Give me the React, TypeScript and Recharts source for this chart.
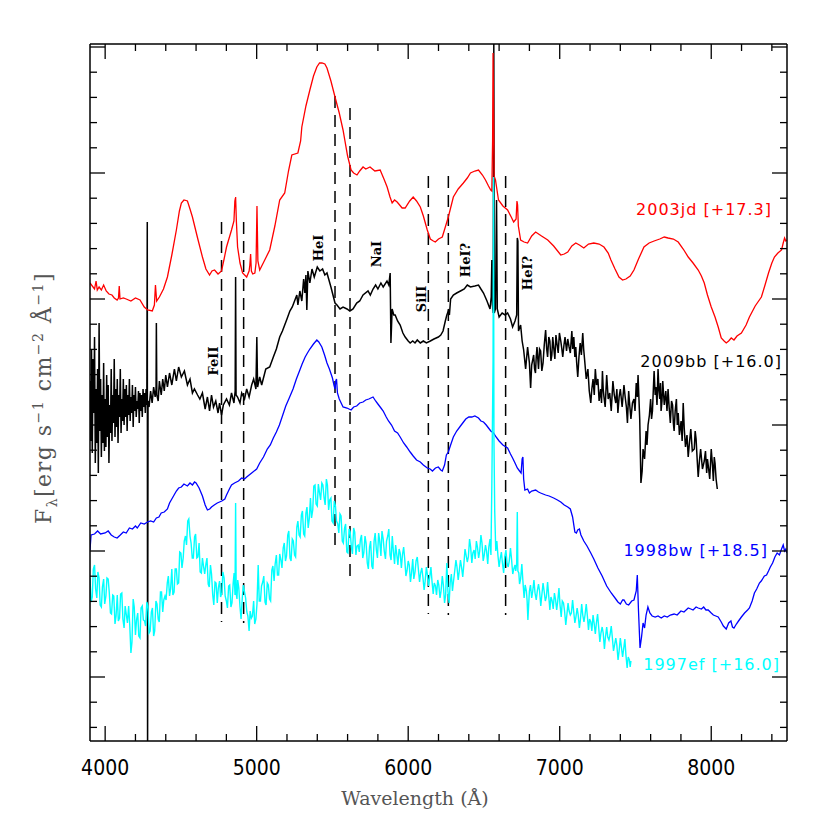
import { LineChart, Line, XAxis, YAxis, ReferenceLine } from "recharts";

// spectra: [wavelength (Å), flux with display offset (arbitrary units)]
const sn2003jd: number[][] = [
  [3900,458],[3915,455],[3930,452],[3940,460],[3948,451],[3960,454],[3975,451],[3990,456],[4007,450],[4025,447],[4045,446],[4060,443],[4079,441],[4088,443],[4093,455],[4098,442],[4120,443],[4139,442],[4170,440],[4200,443],[4230,441],[4258,434],[4280,431],[4311,430],[4325,436],[4332,456],[4340,440],[4358,444],[4385,452],[4411,464],[4440,486],[4470,511],[4490,530],[4503,538],[4520,541],[4543,540],[4560,532],[4576,524],[4610,503],[4642,484],[4665,472],[4689,466],[4705,470],[4722,471],[4745,467],[4768,470],[4785,482],[4801,494],[4834,511],[4850,520],[4856,540],[4861,544],[4866,520],[4874,494],[4890,478],[4907,468],[4934,464],[4950,470],[4955,476],[4960,487],[4965,470],[4974,467],[4988,468],[4996,478],[5002,535],[5008,480],[5020,471],[5050,480],[5086,491],[5120,515],[5152,541],[5185,548],[5210,570],[5232,586],[5272,588],[5290,600],[5298,614],[5325,635],[5351,651],[5375,665],[5397,674],[5415,678],[5431,678],[5450,677],[5464,673],[5490,660],[5517,644],[5545,628],[5570,611],[5600,585],[5623,571],[5640,568],[5662,566],[5680,570],[5702,574],[5720,572],[5748,574],[5780,570],[5815,571],[5840,562],[5861,554],[5880,544],[5894,538],[5910,541],[5927,539],[5960,533],[5980,533],[6010,540],[6033,544],[6055,540],[6080,534],[6100,525],[6126,511],[6146,502],[6166,500],[6179,499],[6200,502],[6225,504],[6245,514],[6265,524],[6298,544],[6330,552],[6364,558],[6390,563],[6411,568],[6440,570],[6464,571],[6490,566],[6510,561],[6530,555],[6545,551],[6552,550],[6557,600],[6560,688],[6563,640],[6567,565],[6576,561],[6596,541],[6625,535],[6656,531],[6680,524],[6696,519],[6712,522],[6718,540],[6722,536],[6727,515],[6742,501],[6765,499],[6788,498],[6815,505],[6841,509],[6880,505],[6921,501],[6960,495],[7007,486],[7030,487],[7053,489],[7080,495],[7106,498],[7130,496],[7159,493],[7190,497],[7225,498],[7260,497],[7292,494],[7320,488],[7338,481],[7365,472],[7391,464],[7415,461],[7437,462],[7465,465],[7490,471],[7520,482],[7556,494],[7590,498],[7623,500],[7660,502],[7690,504],[7715,503],[7750,502],[7782,499],[7815,492],[7848,484],[7880,478],[7914,471],[7935,465],[7954,458],[7975,446],[8000,434],[8025,424],[8046,414],[8066,403],[8085,400],[8099,398],[8115,400],[8132,403],[8150,401],[8170,405],[8199,408],[8230,416],[8252,424],[8290,435],[8331,444],[8355,456],[8378,468],[8400,478],[8417,484],[8440,488],[8464,491],[8475,498],[8484,503],[8492,500],[8500,501],
];

const sn2009bb: number[][] = [
  [3900,360],[3905,300],[3910,392],[3915,288],[3920,382],[3925,328],[3930,404],[3935,278],[3940,352],[3945,298],[3950,372],[3955,268],[3960,418],[3965,310],[3970,362],[3975,284],[3980,346],[3985,298],[3990,378],[3995,290],[4000,342],[4005,294],[4010,366],[4015,304],[4020,356],[4025,278],[4030,336],[4035,308],[4040,372],[4045,300],[4050,346],[4055,318],[4060,382],[4065,304],[4070,352],[4075,314],[4080,362],[4085,298],[4090,346],[4095,324],[4100,372],[4105,308],[4110,342],[4115,320],[4120,362],[4125,316],[4130,352],[4135,324],[4140,356],[4145,310],[4150,346],[4155,326],[4160,362],[4165,320],[4170,344],[4175,328],[4180,356],[4185,314],[4190,346],[4195,330],[4200,354],[4205,324],[4210,340],[4215,332],[4220,350],[4225,318],[4230,348],[4235,330],[4240,346],[4245,324],[4250,352],[4255,334],[4260,348],[4265,328],[4270,352],[4275,336],[4278,519],[4280,-20],[4283,340],[4290,334],[4300,350],[4310,338],[4320,354],[4330,344],[4336,352],[4338,418],[4341,346],[4350,340],[4358,360],[4370,346],[4380,362],[4390,350],[4400,366],[4411,354],[4425,368],[4440,356],[4457,372],[4470,360],[4485,374],[4503,364],[4523,370],[4543,356],[4560,362],[4576,348],[4589,352],[4610,346],[4625,342],[4642,348],[4660,332],[4675,344],[4689,330],[4702,346],[4715,334],[4730,340],[4745,328],[4755,338],[4768,326],[4780,336],[4801,342],[4820,336],[4834,348],[4850,338],[4858,350],[4861,464],[4864,346],[4874,344],[4890,338],[4901,348],[4920,342],[4934,352],[4950,344],[4967,356],[4980,362],[4995,352],[5001,404],[5006,354],[5020,364],[5033,356],[5060,372],[5086,374],[5110,384],[5130,392],[5152,404],[5170,410],[5185,416],[5200,422],[5219,430],[5235,434],[5250,440],[5265,446],[5272,436],[5285,450],[5298,440],[5310,462],[5318,448],[5325,466],[5331,431],[5338,470],[5351,458],[5365,472],[5380,464],[5400,474],[5417,470],[5435,472],[5450,466],[5464,468],[5490,454],[5517,438],[5530,436],[5550,432],[5570,434],[5596,432],[5615,430],[5636,432],[5660,438],[5680,440],[5702,446],[5735,450],[5750,446],[5768,452],[5785,456],[5800,452],[5820,458],[5835,454],[5860,460],[5872,456],[5881,468],[5886,398],[5894,432],[5905,426],[5914,426],[5930,420],[5947,416],[5965,408],[5980,404],[6000,400],[6013,398],[6030,400],[6045,398],[6060,401],[6080,398],[6100,400],[6120,398],[6146,400],[6170,402],[6199,404],[6215,406],[6230,410],[6245,420],[6255,426],[6265,430],[6272,426],[6280,442],[6298,446],[6320,448],[6345,450],[6370,452],[6390,456],[6411,454],[6440,455],[6464,456],[6480,452],[6497,448],[6520,440],[6540,432],[6548,444],[6552,481],[6556,436],[6561,428],[6565,697],[6568,428],[6576,432],[6583,541],[6588,432],[6600,424],[6620,428],[6640,426],[6656,428],[6675,422],[6689,414],[6705,420],[6716,426],[6720,503],[6724,500],[6728,410],[6742,416],[6752,400],[6762,391],[6775,372],[6788,394],[6800,378],[6808,353],[6815,376],[6828,386],[6834,372],[6840,368],[6845,384],[6850,394],[6860,372],[6867,392],[6874,390],[6882,370],[6890,378],[6898,396],[6907,411],[6914,392],[6920,384],[6928,404],[6935,400],[6942,380],[6948,386],[6954,404],[6960,394],[6968,382],[6975,406],[6983,396],[6990,388],[6998,408],[7007,400],[7014,392],[7020,384],[7028,396],[7035,404],[7045,390],[7053,402],[7062,394],[7070,388],[7080,410],[7086,392],[7093,404],[7100,384],[7106,394],[7112,378],[7119,364],[7127,384],[7135,398],[7143,386],[7152,408],[7158,392],[7165,380],[7175,362],[7186,372],[7195,350],[7205,338],[7212,352],[7220,362],[7228,346],[7235,372],[7243,356],[7252,362],[7260,340],[7270,352],[7276,338],[7282,370],[7287,352],[7292,344],[7300,334],[7310,366],[7320,342],[7330,348],[7340,330],[7351,360],[7360,346],[7370,338],[7377,352],[7384,328],[7392,344],[7400,352],[7412,334],[7424,356],[7432,344],[7440,334],[7447,318],[7455,350],[7462,336],[7470,322],[7480,338],[7490,342],[7497,330],[7505,358],[7512,344],[7517,366],[7528,322],[7536,258],[7544,270],[7550,292],[7560,282],[7570,310],[7576,296],[7583,316],[7592,326],[7600,342],[7606,322],[7612,330],[7618,352],[7623,370],[7630,346],[7635,354],[7642,336],[7649,372],[7655,350],[7660,342],[7665,358],[7669,330],[7675,340],[7680,360],[7690,336],[7700,350],[7708,330],[7715,352],[7722,334],[7730,318],[7738,340],[7745,336],[7750,318],[7755,310],[7762,330],[7770,342],[7776,316],[7782,328],[7790,306],[7801,320],[7808,300],[7815,338],[7822,312],[7830,294],[7840,306],[7848,284],[7856,298],[7865,312],[7875,290],[7888,292],[7894,310],[7900,302],[7907,282],[7914,264],[7922,280],[7930,292],[7942,272],[7954,280],[7962,290],[7970,268],[7975,282],[7980,276],[7990,262],[8000,292],[8008,276],[8014,260],[8020,284],[8025,278],[8032,262],[8040,252],
];

const sn1998bw: number[][] = [
  [3900,191],[3907,206],[3930,207],[3950,210],[3970,207],[4000,208],[4020,210],[4040,206],[4060,204],[4079,203],[4100,206],[4120,209],[4139,208],[4160,213],[4180,212],[4200,215],[4212,213],[4235,218],[4258,217],[4280,219],[4300,220],[4320,219],[4338,223],[4355,224],[4370,228],[4390,229],[4411,232],[4425,238],[4440,242],[4455,246],[4470,250],[4485,253],[4503,254],[4520,257],[4543,255],[4560,258],[4576,256],[4590,259],[4600,258],[4620,253],[4642,245],[4660,236],[4675,231],[4690,232],[4702,234],[4720,236],[4740,238],[4770,240],[4790,242],[4801,246],[4820,252],[4834,256],[4854,258],[4880,260],[4901,263],[4920,262],[4934,264],[4967,268],[5000,272],[5020,278],[5045,284],[5070,292],[5090,296],[5110,303],[5130,309],[5150,316],[5170,325],[5192,335],[5215,343],[5240,352],[5262,362],[5285,371],[5300,377],[5320,384],[5335,388],[5351,392],[5375,397],[5397,401],[5410,399],[5430,394],[5448,386],[5464,378],[5480,372],[5500,363],[5510,356],[5517,352],[5522,360],[5527,362],[5533,348],[5545,342],[5570,334],[5596,333],[5623,331],[5640,334],[5660,335],[5680,338],[5702,339],[5720,341],[5740,342],[5768,344],[5785,340],[5800,337],[5820,333],[5835,330],[5855,324],[5870,320],[5890,316],[5910,310],[5930,308],[5947,304],[5970,298],[5990,294],[6013,289],[6033,285],[6055,281],[6080,279],[6100,276],[6126,273],[6145,272],[6160,270],[6180,273],[6199,274],[6215,271],[6225,270],[6240,276],[6252,286],[6265,289],[6280,296],[6298,304],[6320,310],[6345,315],[6365,319],[6380,322],[6400,324],[6420,324],[6440,325],[6464,323],[6480,320],[6497,319],[6515,316],[6530,313],[6545,310],[6563,308],[6580,304],[6600,300],[6625,296],[6656,293],[6675,287],[6689,283],[6705,278],[6720,273],[6735,270],[6745,268],[6752,282],[6757,284],[6762,262],[6770,251],[6788,252],[6800,248],[6815,250],[6841,251],[6860,249],[6874,248],[6890,247],[6907,246],[6930,245],[6960,243],[6985,241],[7007,239],[7030,236],[7053,234],[7070,232],[7085,224],[7100,209],[7110,208],[7119,211],[7130,212],[7140,206],[7159,200],[7180,195],[7205,188],[7225,182],[7252,173],[7280,165],[7310,155],[7340,148],[7370,142],[7384,139],[7400,137],[7415,141],[7424,141],[7440,137],[7455,136],[7475,140],[7490,141],[7505,150],[7512,166],[7520,130],[7530,93],[7540,104],[7550,118],[7560,113],[7570,126],[7582,134],[7595,128],[7610,125],[7630,124],[7649,125],[7670,123],[7690,125],[7710,124],[7730,126],[7755,127],[7775,126],[7800,130],[7820,129],[7848,133],[7865,132],[7880,131],[7900,134],[7914,133],[7935,132],[7950,134],[7965,131],[7980,131],[8000,128],[8014,126],[8030,125],[8046,124],[8066,119],[8080,115],[8099,112],[8115,118],[8130,120],[8140,114],[8150,113],[8166,117],[8180,120],[8199,124],[8220,128],[8240,131],[8252,133],[8270,140],[8285,148],[8300,152],[8318,158],[8330,160],[8351,165],[8365,166],[8378,170],[8390,174],[8405,178],[8420,184],[8435,188],[8450,186],[8464,192],[8475,196],[8484,190],[8492,192],[8500,188],
];

const sn1997ef: number[][] = [
  [3900,163],[3907,139],[3915,144],[3922,172],[3930,176],[3937,152],[3945,143],[3952,169],[3960,163],[3967,136],[3975,134],[3982,154],[3990,162],[3997,137],[4005,145],[4012,163],[4020,162],[4027,149],[4035,128],[4042,127],[4050,146],[4057,145],[4065,117],[4072,125],[4080,146],[4087,120],[4095,123],[4102,147],[4110,148],[4117,122],[4125,113],[4132,135],[4140,126],[4147,118],[4155,135],[4162,117],[4170,88],[4177,99],[4185,142],[4192,134],[4200,106],[4207,121],[4215,128],[4222,105],[4230,103],[4237,133],[4245,135],[4252,121],[4260,120],[4267,115],[4275,139],[4282,135],[4290,108],[4297,110],[4305,129],[4312,133],[4320,105],[4327,110],[4335,140],[4342,137],[4350,122],[4357,119],[4365,149],[4372,149],[4380,129],[4387,141],[4395,145],[4402,141],[4410,158],[4417,165],[4425,145],[4432,152],[4440,172],[4447,146],[4455,149],[4462,172],[4470,172],[4477,157],[4485,158],[4492,189],[4500,188],[4507,173],[4515,183],[4522,200],[4530,205],[4537,196],[4545,220],[4552,222],[4560,205],[4567,198],[4575,183],[4582,183],[4590,204],[4597,207],[4605,183],[4612,184],[4620,198],[4627,169],[4635,168],[4642,183],[4650,174],[4657,167],[4665,177],[4672,183],[4680,157],[4687,154],[4695,176],[4702,167],[4710,146],[4717,136],[4725,159],[4732,158],[4740,138],[4747,153],[4755,160],[4762,144],[4770,148],[4777,169],[4785,163],[4792,145],[4800,140],[4807,133],[4815,155],[4822,156],[4830,134],[4837,138],[4845,158],[4851,168],[4857,146],[4861,238],[4865,147],[4870,142],[4875,161],[4882,153],[4890,134],[4897,122],[4905,143],[4912,156],[4920,149],[4927,143],[4935,129],[4942,125],[4950,110],[4957,130],[4965,123],[4972,125],[4980,140],[4987,117],[4995,122],[5002,137],[5010,176],[5017,140],[5025,140],[5032,155],[5040,159],[5047,165],[5055,139],[5062,136],[5070,158],[5077,156],[5085,142],[5092,140],[5100,171],[5107,175],[5115,160],[5122,177],[5130,186],[5137,166],[5145,166],[5152,187],[5160,181],[5167,173],[5175,193],[5182,198],[5190,180],[5197,185],[5205,206],[5212,210],[5220,183],[5227,180],[5235,202],[5242,200],[5250,186],[5257,184],[5265,214],[5272,220],[5280,206],[5287,204],[5295,226],[5302,230],[5310,207],[5317,205],[5325,228],[5332,234],[5340,213],[5347,222],[5355,243],[5362,223],[5370,231],[5377,255],[5385,256],[5392,237],[5400,235],[5407,257],[5415,248],[5422,241],[5430,258],[5437,256],[5445,243],[5452,236],[5460,262],[5467,256],[5475,231],[5482,241],[5490,243],[5497,220],[5505,218],[5512,240],[5520,235],[5527,220],[5535,217],[5542,208],[5550,227],[5557,225],[5565,200],[5572,198],[5580,213],[5587,217],[5595,189],[5602,188],[5610,212],[5617,209],[5625,194],[5632,187],[5640,213],[5647,209],[5655,186],[5662,195],[5670,196],[5677,189],[5685,202],[5692,206],[5700,183],[5707,188],[5715,205],[5722,198],[5730,178],[5737,172],[5745,194],[5752,200],[5760,175],[5767,172],[5775,200],[5782,208],[5790,191],[5797,183],[5805,208],[5812,200],[5820,185],[5827,210],[5835,202],[5842,190],[5850,182],[5857,200],[5865,205],[5872,212],[5880,186],[5887,181],[5895,205],[5902,190],[5910,177],[5917,196],[5925,186],[5932,176],[5940,192],[5947,188],[5955,173],[5962,186],[5970,194],[5977,182],[5985,165],[5992,170],[6000,180],[6007,176],[6015,159],[6022,168],[6030,182],[6037,162],[6045,169],[6052,180],[6060,184],[6067,172],[6075,159],[6082,168],[6090,173],[6097,164],[6105,151],[6112,160],[6120,174],[6127,166],[6135,155],[6142,164],[6150,174],[6157,160],[6165,147],[6172,158],[6180,155],[6187,146],[6195,161],[6202,156],[6210,143],[6217,150],[6225,165],[6232,156],[6240,138],[6247,146],[6255,178],[6262,150],[6270,138],[6277,158],[6285,167],[6292,150],[6300,161],[6307,170],[6315,181],[6322,174],[6330,161],[6337,170],[6345,181],[6352,174],[6360,164],[6367,176],[6375,192],[6382,186],[6390,179],[6397,184],[6405,202],[6412,194],[6420,178],[6427,188],[6435,191],[6442,182],[6450,200],[6457,194],[6465,183],[6472,190],[6480,206],[6487,198],[6495,180],[6502,186],[6510,196],[6517,190],[6525,177],[6532,194],[6540,202],[6546,186],[6552,256],[6560,380],[6563,564],[6566,300],[6571,230],[6578,190],[6585,200],[6592,186],[6600,174],[6607,182],[6615,189],[6622,178],[6630,168],[6637,184],[6645,191],[6652,178],[6660,174],[6667,180],[6675,193],[6682,182],[6690,167],[6697,172],[6705,176],[6710,170],[6716,178],[6720,229],[6724,170],[6730,168],[6735,157],[6742,162],[6750,177],[6757,160],[6765,143],[6772,156],[6780,150],[6785,140],[6790,121],[6795,136],[6800,150],[6807,156],[6815,143],[6822,150],[6830,161],[6837,148],[6845,141],[6852,150],[6860,157],[6867,150],[6875,135],[6882,146],[6890,158],[6897,150],[6905,140],[6912,144],[6920,159],[6927,146],[6935,131],[6942,144],[6950,140],[6957,132],[6965,148],[6972,142],[6980,131],[6987,140],[6995,153],[7002,136],[7010,124],[7017,140],[7025,138],[7032,130],[7040,116],[7047,126],[7055,138],[7062,130],[7070,126],[7077,128],[7085,141],[7092,130],[7100,118],[7107,124],[7115,133],[7122,126],[7130,113],[7137,122],[7145,137],[7152,126],[7160,119],[7167,126],[7175,137],[7182,126],[7190,111],[7197,122],[7205,119],[7212,110],[7220,126],[7227,118],[7235,107],[7242,118],[7250,127],[7257,114],[7265,99],[7272,108],[7280,114],[7287,108],[7295,92],[7302,104],[7310,114],[7317,104],[7325,101],[7332,106],[7340,115],[7347,104],[7355,90],[7362,96],[7370,103],[7377,96],[7385,81],[7392,90],[7400,103],[7407,94],[7415,84],[7422,92],[7430,102],[7437,86],[7445,73],[7452,84],[7460,81],[7465,74],[7470,80],
];

// line identifications: wavelength and vertical extent of the dashed marker
const idLines = [
  { w: 4768, top: 519, bottom: 119 },
  { w: 4914, top: 519, bottom: 118 },
  { w: 5517, top: 645, bottom: 190 },
  { w: 5616, top: 633, bottom: 164 },
  { w: 6133, top: 565, bottom: 127 },
  { w: 6265, top: 565, bottom: 126 },
  { w: 6643, top: 565, bottom: 126 },
];

const xTicks = [4000,4200,4400,4600,4800,5000,5200,5400,5600,5800,6000,6200,6400,6600,6800,7000,7200,7400,7600,7800,8000,8200,8400];
const yTicks = [694,668.8,643.6,618.4,593.2,568,542.8,517.6,492.4,467.2,442,416.8,391.6,366.4,341.2,316,290.8,265.6,240.4,215.2,190,164.8,139.6,114.4,89.2,64,38.8,13.6];

const ionLabels = [
  { text: "FeII", x: 213, y: 361 },
  { text: "HeI", x: 318, y: 248 },
  { text: "NaI", x: 376, y: 254 },
  { text: "SiII", x: 421, y: 299 },
  { text: "HeI?", x: 465, y: 260 },
  { text: "HeI?", x: 527, y: 273 },
];

const snLabels = [
  { text: "2003jd [+17.3]", color: "#ff0000", right: 772, y: 210 },
  { text: "2009bb [+16.0]", color: "#000000", right: 782, y: 362 },
  { text: "1998bw [+18.5]", color: "#0000ff", right: 768, y: 551 },
  { text: "1997ef [+16.0]", color: "#00ffff", right: 780, y: 665 },
];

const toRows = (pts: number[][]) => pts.map(([w, f]) => ({ w, f }));

// plot frame in svg coordinates
const PL = 82, PR = 779, PT = 36, PB = 733;

const TICK_FONT = "'Liberation Sans Narrow', 'DejaVu Sans Condensed', Roboto, sans-serif";
const isMajorY = (v: number) => {
  const k = (694 - v) / 126;
  return Math.abs(k - Math.round(k)) < 0.01;
};

function BottomTick({ x, payload }: any) {
  const major = payload.value % 1000 === 0;
  return (
    <g>
      <line x1={x} x2={x} y1={PB} y2={PB - (major ? 15 : 7)} stroke="#000" strokeWidth={1.3} />
      {major && (
        <text x={x} y={PB + 34} textAnchor="middle" fontSize={21} fontFamily={TICK_FONT} fill="#000">
          {payload.value}
        </text>
      )}
    </g>
  );
}

function TopTick({ x, payload }: any) {
  const major = payload.value % 1000 === 0;
  return <line x1={x} x2={x} y1={PT} y2={PT + (major ? 15 : 7)} stroke="#000" strokeWidth={1.3} />;
}

function LeftTick({ y, payload }: any) {
  return <line x1={PL} x2={PL + (isMajorY(payload.value) ? 15 : 7)} y1={y} y2={y} stroke="#000" strokeWidth={1.3} />;
}

function RightTick({ y, payload }: any) {
  return <line x1={PR} x2={PR - (isMajorY(payload.value) ? 15 : 7)} y1={y} y2={y} stroke="#000" strokeWidth={1.3} />;
}

const axisLine = { stroke: "#000", strokeWidth: 1.5 };

export default function App() {
  return (
    <div style={{ position: "relative", width: 814, height: 814 }}>
      <LineChart width={814} height={814} margin={{ top: 35, right: 34, bottom: 51, left: 81 }}>
        <XAxis xAxisId="b" type="number" dataKey="w" domain={[3900, 8500]} allowDataOverflow ticks={xTicks} interval={0}
          tick={(p: any) => <BottomTick {...p} />} tickLine={false} axisLine={axisLine} height={30} />
        <XAxis xAxisId="t" orientation="top" type="number" dataKey="w" domain={[3900, 8500]} allowDataOverflow ticks={xTicks} interval={0}
          tick={(p: any) => <TopTick {...p} />} tickLine={false} axisLine={axisLine} height={1} />
        <YAxis yAxisId="l" type="number" domain={[0, 697]} allowDataOverflow ticks={yTicks} interval={0}
          tick={(p: any) => <LeftTick {...p} />} tickLine={false} axisLine={axisLine} width={1} />
        <YAxis yAxisId="r" orientation="right" type="number" domain={[0, 697]} allowDataOverflow ticks={yTicks} interval={0}
          tick={(p: any) => <RightTick {...p} />} tickLine={false} axisLine={axisLine} width={1} />

        {idLines.map((l, i) => (
          <ReferenceLine key={i} xAxisId="b" yAxisId="l" segment={[{ x: l.w, y: l.top }, { x: l.w, y: l.bottom }]}
            stroke="#000" strokeWidth={1.5} strokeDasharray="12 7" />
        ))}

        <Line xAxisId="b" yAxisId="l" data={toRows(sn2009bb)} dataKey="f" stroke="#000" strokeWidth={1.5} dot={false} activeDot={false} isAnimationActive={false} />
        <Line xAxisId="b" yAxisId="l" data={toRows(sn2003jd)} dataKey="f" stroke="#ff0000" strokeWidth={1.3} dot={false} activeDot={false} isAnimationActive={false} />
        <Line xAxisId="b" yAxisId="l" data={toRows(sn1998bw)} dataKey="f" stroke="#0000ff" strokeWidth={1.3} dot={false} activeDot={false} isAnimationActive={false} />
        <Line xAxisId="b" yAxisId="l" data={toRows(sn1997ef)} dataKey="f" stroke="#00ffff" strokeWidth={1.4} dot={false} activeDot={false} isAnimationActive={false} />
      </LineChart>

      {ionLabels.map((l, i) => (
        <div key={i} style={{ position: "absolute", left: l.x - 8, top: l.y - 8, transform: "translate(-50%, -50%) rotate(-90deg)",
          fontFamily: "'DejaVu Serif', serif", fontWeight: "bold", fontSize: 13, whiteSpace: "nowrap", lineHeight: 1 }}>
          {l.text}
        </div>
      ))}

      {snLabels.map((l, i) => (
        <div key={i} style={{ position: "absolute", right: 814 - (l.right - 8), top: l.y - 8, transform: "translateY(-50%)",
          fontFamily: "'DejaVu Sans', sans-serif", fontSize: 16, letterSpacing: 1.0, color: l.color, whiteSpace: "nowrap", lineHeight: 1 }}>
          {l.text}
        </div>
      ))}

      <div style={{ position: "absolute", left: 45 - 8, top: 398 - 8, transform: "translate(-50%, -50%) rotate(-90deg)",
        fontFamily: "'DejaVu Serif', serif", fontSize: 22, letterSpacing: 1.5, color: "#555", whiteSpace: "nowrap", lineHeight: 1 }}>
        F<sub style={{ fontSize: 14 }}>λ</sub>[erg s<sup style={{ fontSize: 14 }}>−1</sup> cm<sup style={{ fontSize: 14 }}>−2</sup> Å<sup style={{ fontSize: 14 }}>−1</sup>]
      </div>

      <div style={{ position: "absolute", left: 415 - 8, top: 798 - 8, transform: "translate(-50%, -50%)",
        fontFamily: "'DejaVu Serif', serif", fontSize: 19, color: "#555", whiteSpace: "nowrap", lineHeight: 1 }}>
        Wavelength (Å)
      </div>
    </div>
  );
}
